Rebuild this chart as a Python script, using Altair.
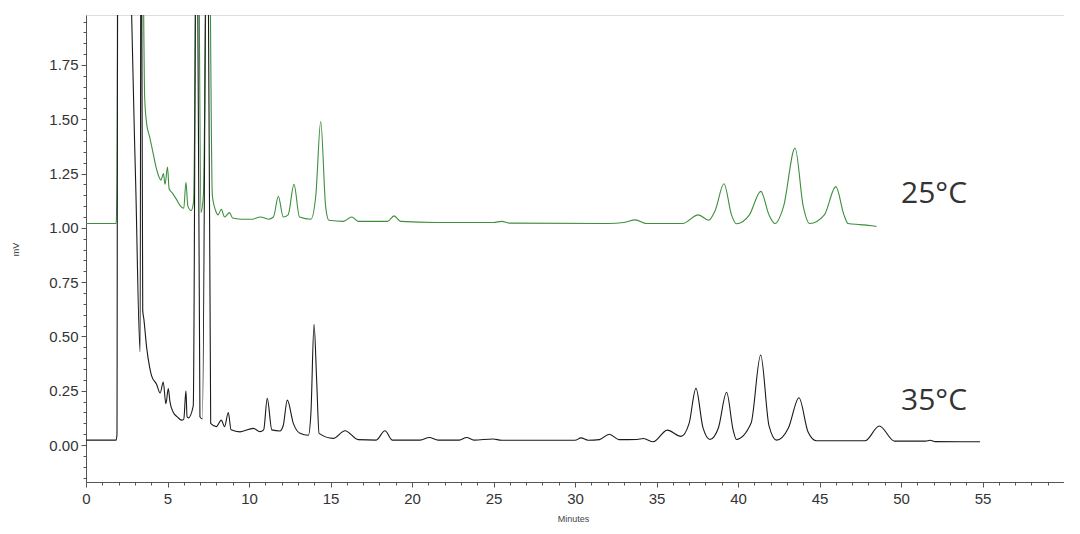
import altair as alt
import pandas as pd

# 25°C trace (minutes, mV)
t25 = [0, 1.85, 1.9, 2.0, 3.4, 3.6, 3.72, 3.9, 4.1, 4.33, 4.6, 4.75, 4.85, 5.0, 5.1, 5.3, 5.56,
       5.8, 6.0, 6.13, 6.25, 6.45, 6.6, 6.85, 7.05, 7.2, 7.5, 7.75, 7.95, 8.1, 8.3, 8.5, 8.8,
       9.0, 9.5, 10.2, 10.7, 11.2, 11.5, 11.8, 12.1, 12.4, 12.76, 13.1, 13.8, 14.1, 14.4, 14.7,
       14.9, 15.8, 16.3, 16.7, 18.5, 18.9, 19.3, 21.5, 25.0, 25.5, 26.0, 32.0, 33.0, 33.7, 34.4,
       36.6, 37.57, 38.2, 38.6, 39.14, 39.6, 39.9, 40.7, 41.4, 41.9, 42.27, 42.8, 43.5, 44.0,
       44.4, 45.3, 46.0, 46.5, 46.75, 47.5, 48.2, 48.5]
v25 = [1.02, 1.02, 1.2, 3.0, 3.0, 1.6, 1.48, 1.42, 1.35, 1.27, 1.22, 1.25, 1.2, 1.28, 1.18, 1.16, 1.13,
       1.1, 1.09, 1.21, 1.1, 1.08, 1.12, 3.0, 1.07, 1.15, 3.0, 1.15, 1.08, 1.06, 1.085, 1.05, 1.07,
       1.045, 1.04, 1.04, 1.05, 1.04, 1.05, 1.145, 1.05, 1.06, 1.20, 1.05, 1.04, 1.15, 1.49, 1.1,
       1.035, 1.03, 1.05, 1.03, 1.03, 1.055, 1.03, 1.025, 1.025, 1.03, 1.022, 1.02, 1.025, 1.037, 1.02,
       1.02, 1.06, 1.035, 1.08, 1.203, 1.06, 1.019, 1.06, 1.168, 1.06, 1.02, 1.1, 1.368, 1.1,
       1.02, 1.06, 1.19, 1.06, 1.02, 1.015, 1.01, 1.006]

# 35°C trace (minutes, mV)
t35 = [0, 1.85, 1.9, 1.95, 2.6, 2.8, 3.05, 3.32, 3.38, 3.48, 3.55, 3.72, 3.9, 4.02, 4.33, 4.55,
       4.74, 4.9, 5.05, 5.15, 5.36, 5.6, 5.87, 6.0, 6.13, 6.2, 6.28, 6.58, 6.79, 6.99, 7.14, 7.44,
       7.65, 8.0, 8.3, 8.5, 8.73, 8.9, 9.45, 10.26, 10.67, 10.9, 11.12, 11.4, 11.9, 12.1, 12.35,
       12.72, 13.13, 13.64, 13.8, 13.99, 14.15, 14.3, 15.17, 15.89, 16.7, 17.8, 18.34, 18.8, 20.5,
       21.06, 21.6, 22.9, 23.35, 23.8, 24.97, 25.5, 30.0, 30.37, 30.8, 31.5, 32.1, 32.7, 33.8,
       34.2, 34.8, 35.66, 36.5, 37.0, 37.42, 37.85, 38.28, 38.8, 39.3, 39.7, 39.9, 40.8, 41.39,
       41.9, 42.37, 43.1, 43.74, 44.3, 44.8, 47.8, 48.67, 49.6, 51.5, 51.8, 52.1, 54.85]
v35 = [0.023, 0.023, 0.05, 3.0, 3.0, 1.98, 1.2, 0.43, 3.0, 0.62, 0.58, 0.45, 0.36, 0.32, 0.28, 0.24,
       0.29, 0.19, 0.26, 0.2, 0.15, 0.13, 0.115, 0.12, 0.25, 0.13, 0.125, 0.18, 3.0, 0.13, 0.12, 3.0,
       0.10, 0.085, 0.115, 0.085, 0.15, 0.07, 0.061, 0.077, 0.062, 0.07, 0.215, 0.07, 0.065, 0.09, 0.207,
       0.10, 0.054, 0.045, 0.15, 0.556, 0.3, 0.054, 0.031, 0.066, 0.025, 0.023, 0.066, 0.023, 0.023,
       0.035, 0.023, 0.023, 0.035, 0.023, 0.028, 0.022, 0.022, 0.033, 0.022, 0.025, 0.05, 0.025, 0.026,
       0.03, 0.015, 0.069, 0.04, 0.1, 0.261, 0.08, 0.026, 0.08, 0.243, 0.07, 0.026, 0.1, 0.415,
       0.09, 0.023, 0.08, 0.218, 0.06, 0.02, 0.02, 0.088, 0.018, 0.018, 0.022, 0.016, 0.015]

series_names = ["25°C", "35°C"]
series_colors = ["#3e8e3e", "#1a1a1a"]
label_t = [50.0, 50.0]
label_v = [1.155, 0.205]
x_major = [0, 5, 10, 15, 20, 25, 30, 35, 40, 45, 50, 55]
x_minor = list(range(0, 61))
y_major = [0.0, 0.25, 0.5, 0.75, 1.0, 1.25, 1.5, 1.75]
y_minor = [round(-0.15 + 0.05 * i, 2) for i in range(43)]

df = pd.DataFrame({
    "t": t25 + t35,
    "v": v25 + v35,
    "s": [series_names[0]] * len(t25) + [series_names[1]] * len(t35),
})
labels = pd.DataFrame({"t": label_t, "v": label_v, "s": series_names})

xscale = alt.Scale(domain=[0, 60], nice=False, zero=False)
yscale = alt.Scale(domain=[-0.17, 1.98], nice=False, zero=False)

x_axis = alt.Axis(
    orient="bottom", values=x_major, format="d", tickSize=5,
    title="Minutes", titleX=487, titleY=36, titleAlign="center", titleBaseline="middle",
    titleFontSize=9, titleFontWeight="normal", titleColor="#444", titleFont="Liberation Sans",
    labelFont="Liberation Sans", labelFontSize=15, labelColor="#333", labelPadding=4,
    grid=False, domainColor="#555", tickColor="#555", labelFlush=False, labelOverlap=False,
)
y_axis = alt.Axis(
    orient="left", values=y_major, format=".2f", tickSize=5,
    title="mV", titleX=-71, titleY=234, titleAlign="center", titleBaseline="middle",
    titleFontSize=9, titleFontWeight="normal", titleColor="#444", titleFont="Liberation Sans",
    labelFont="Liberation Sans", labelFontSize=15, labelColor="#333", labelPadding=3,
    grid=False, domainColor="#555", tickColor="#555", labelFlush=False, labelOverlap=False,
)
x_minor_axis = alt.Axis(orient="bottom", values=x_minor, tickSize=3, labels=False, title=None,
                        domain=False, grid=False, tickColor="#555")
y_minor_axis = alt.Axis(orient="left", values=y_minor, tickSize=3, labels=False, title=None,
                        domain=False, grid=False, tickColor="#555")

lines = alt.Chart(df).mark_line(interpolate="monotone", clip=True, strokeWidth=1.1).encode(
    x=alt.X("t:Q", scale=xscale, axis=x_axis),
    y=alt.Y("v:Q", scale=yscale, axis=y_axis),
    color=alt.Color("s:N", scale=alt.Scale(domain=series_names, range=series_colors), legend=None),
    detail="s:N",
    order="t:Q",
)

minor = alt.Chart(labels).mark_point(opacity=0).encode(
    x=alt.X("t:Q", scale=xscale, axis=x_minor_axis),
    y=alt.Y("v:Q", scale=yscale, axis=y_minor_axis),
)

text = alt.Chart(labels).mark_text(
    align="left", baseline="middle", font="Open Sans", fontSize=30, color="#333"
).encode(
    x=alt.X("t:Q", scale=xscale, axis=None),
    y=alt.Y("v:Q", scale=yscale, axis=None),
    text="s:N",
)

chart = alt.layer(lines, minor, text).resolve_axis(x="independent", y="independent").properties(
    width=978, height=467,
    autosize=alt.AutoSizeParams(type="none"),
    padding={"left": 78, "top": 7, "right": 0, "bottom": 44},
).configure_view(stroke="#808080", strokeWidth=1).configure(background="white")

chart.save("out.html", embed_options={"renderer": "svg", "actions": False})
